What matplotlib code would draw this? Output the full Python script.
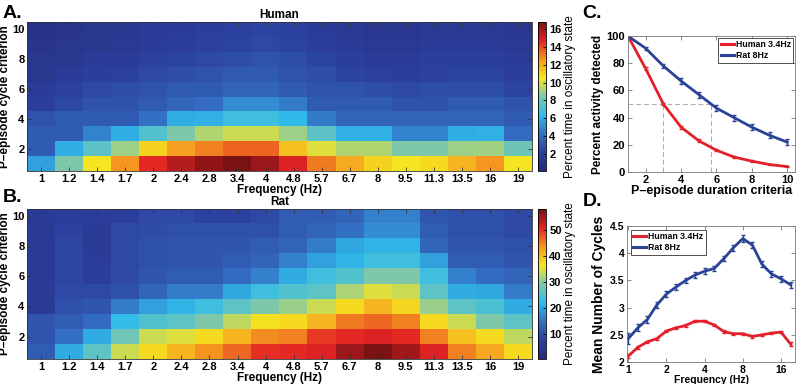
import numpy as np
import matplotlib
matplotlib.use("Agg")
import matplotlib.pyplot as plt
from matplotlib.ticker import FixedLocator, NullLocator
from matplotlib.colors import LinearSegmentedColormap
from matplotlib.lines import Line2D

plt.rcParams['font.family'] = ['Liberation Sans', 'DejaVu Sans']

freq_labels = ['1', '1.2', '1.4', '1.7', '2', '2.4', '2.8', '3.4', '4', '4.8',
               '5.7', '6.7', '8', '9.5', '11.3', '13.5', '16', '19']
cycle_criteria = [1, 2, 3, 4, 5, 6, 7, 8, 9, 10]

# Human: percent time in oscillatory state, rows = cycle criterion 1..10
human = [
    [5.6, 8.5, 10.6, 12.6, 14.6, 15.6, 16.3, 16.8, 16.1, 14.8, 13.1, 12.1, 11.0, 10.6, 10.8, 11.8, 12.6, 10.6],
    [3.4, 6.0, 7.6, 9.0, 11.0, 12.3, 13.0, 13.5, 13.5, 11.5, 10.1, 9.3, 9.3, 8.5, 8.5, 9.0, 9.1, 8.0],
    [3.4, 3.4, 4.8, 6.0, 7.3, 8.5, 9.3, 9.8, 9.8, 9.0, 7.6, 6.1, 6.1, 4.8, 4.8, 6.0, 6.1, 4.1],
    [3.0, 3.4, 3.4, 3.4, 4.3, 6.0, 6.1, 6.8, 6.8, 6.3, 4.6, 3.8, 3.8, 3.8, 3.8, 3.8, 3.8, 3.4],
    [2.1, 2.6, 3.0, 3.1, 3.4, 3.8, 4.1, 5.1, 5.1, 4.6, 3.4, 3.4, 3.4, 3.1, 3.1, 3.4, 3.4, 3.0],
    [1.8, 2.3, 2.6, 2.8, 3.0, 3.3, 3.4, 3.8, 3.8, 3.4, 3.1, 3.0, 2.8, 2.6, 2.8, 2.8, 2.8, 2.4],
    [1.4, 1.8, 2.1, 2.3, 2.6, 2.8, 3.0, 3.3, 3.3, 3.1, 2.8, 2.4, 2.3, 2.1, 2.3, 2.4, 2.4, 2.1],
    [1.3, 1.4, 1.8, 1.9, 2.3, 2.4, 2.6, 2.8, 3.0, 2.8, 2.4, 2.1, 1.9, 1.9, 2.1, 2.1, 2.1, 1.9],
    [1.1, 1.3, 1.4, 1.6, 1.9, 2.1, 2.3, 2.4, 2.6, 2.4, 2.1, 1.8, 1.6, 1.6, 1.8, 1.8, 1.8, 1.6],
    [0.9, 1.1, 1.3, 1.4, 1.8, 1.8, 2.1, 2.3, 2.4, 2.3, 1.9, 1.6, 1.4, 1.4, 1.6, 1.6, 1.6, 1.4],
]

# Rat
rat = [
    [11.9, 20.6, 26.3, 33.8, 37.3, 40.7, 43.6, 46.5, 49.9, 50.5, 51.1, 55.7, 58.0, 55.1, 51.1, 44.8, 41.9, 37.3],
    [10.8, 14.8, 20.6, 28.0, 33.8, 35.0, 37.3, 40.7, 44.2, 44.8, 49.4, 50.5, 51.1, 50.5, 44.8, 39.6, 37.3, 33.2],
    [10.8, 11.9, 14.2, 22.3, 25.2, 26.3, 29.2, 33.2, 36.7, 37.3, 40.7, 45.3, 46.5, 44.8, 37.3, 33.8, 29.2, 26.3],
    [6.2, 10.2, 10.8, 16.0, 19.4, 21.1, 23.4, 26.3, 29.2, 30.9, 33.8, 37.3, 40.7, 37.8, 30.9, 26.3, 24.6, 20.6],
    [6.2, 9.0, 9.0, 10.2, 13.1, 16.0, 16.0, 20.0, 23.4, 25.2, 26.3, 32.1, 35.0, 33.8, 26.3, 20.6, 20.0, 16.0],
    [6.2, 8.5, 7.3, 9.0, 10.8, 11.9, 11.9, 14.2, 16.5, 20.6, 23.4, 25.2, 29.2, 29.2, 23.4, 16.5, 14.2, 13.1],
    [6.2, 8.5, 6.8, 9.0, 10.2, 10.8, 10.8, 11.9, 13.1, 16.5, 19.4, 21.1, 23.4, 23.4, 19.4, 11.9, 11.9, 10.8],
    [6.2, 8.5, 6.2, 9.0, 10.2, 10.8, 10.8, 10.8, 11.9, 13.1, 16.0, 20.0, 21.1, 21.1, 13.1, 10.8, 10.8, 10.2],
    [6.2, 7.9, 6.2, 9.0, 9.6, 10.2, 10.2, 10.2, 10.2, 11.9, 13.1, 14.8, 17.7, 17.7, 11.9, 10.2, 10.2, 9.0],
    [6.2, 7.3, 6.8, 7.3, 9.0, 9.0, 7.9, 7.9, 9.0, 11.9, 11.9, 13.1, 16.5, 16.5, 10.8, 10.2, 10.2, 9.0],
]

human_range = (0.1, 16.8)
rat_range = (0.4, 58.0)
human_cticks = [2, 4, 6, 8, 10, 12, 14, 16]
rat_cticks = [10, 20, 30, 40, 50]

# Panel C
duration = [1, 2, 3, 4, 5, 6, 7, 8, 9, 10]
c_human = [100, 76, 50, 33, 23, 16, 11, 8, 5.5, 4]
c_human_err = [0.5, 1.0, 1.0, 1.0, 1.0, 0.8, 0.7, 0.6, 0.5, 0.5]
c_rat = [100, 91, 78, 67, 57, 47, 40, 33, 27, 22]
c_rat_err = [0.5, 1.2, 1.5, 2.0, 2.2, 2.2, 2.2, 2.2, 2.2, 2.2]
c_dash_x = [3, 5.7]

# Panel D
freqs = [1, 1.19, 1.41, 1.68, 2, 2.38, 2.83, 3.36, 4, 4.76, 5.66, 6.73,
         8, 9.51, 11.31, 13.45, 16, 19.03]
d_human = [2.11, 2.27, 2.37, 2.43, 2.57, 2.63, 2.67, 2.75, 2.75, 2.68, 2.56, 2.52,
           2.52, 2.47, 2.50, 2.53, 2.55, 2.33]
d_human_err = [0.03, 0.03, 0.02, 0.02, 0.02, 0.02, 0.02, 0.02, 0.02, 0.02, 0.02, 0.02,
               0.02, 0.02, 0.02, 0.02, 0.02, 0.03]
d_rat = [2.43, 2.63, 2.78, 3.05, 3.25, 3.38, 3.50, 3.60, 3.67, 3.72, 3.90, 4.10,
         4.27, 4.15, 3.80, 3.62, 3.53, 3.42]
d_rat_err = [0.1, 0.06, 0.06, 0.06, 0.06, 0.05, 0.05, 0.05, 0.05, 0.05, 0.05, 0.05,
             0.06, 0.05, 0.05, 0.05, 0.05, 0.06]

RED = '#e3202b'
BLUE = '#2b4396'

# muted jet-like colormap, as printed in the reference
_anchors = [
    (0.0, (38, 44, 122)),
    (0.125, (44, 64, 158)),
    (0.25, (52, 112, 196)),
    (0.375, (48, 188, 234)),
    (0.5, (125, 200, 172)),
    (0.625, (245, 230, 32)),
    (0.75, (245, 150, 32)),
    (0.875, (228, 36, 36)),
    (1.0, (122, 18, 20)),
]
CMAP = LinearSegmentedColormap.from_list(
    'mutedjet', [(p, tuple(c / 255 for c in rgb)) for p, rgb in _anchors], N=256)

fig = plt.figure(figsize=(8.0, 3.84), dpi=100)


def heat(rect, crect, data, rng, cticks, title, letter, letter_y):
    ax = fig.add_axes(rect)
    arr = np.array(data)
    im = ax.imshow(arr, origin='lower', aspect='auto', cmap=CMAP,
                   vmin=rng[0], vmax=rng[1], interpolation='nearest',
                   extent=(0.5, len(freq_labels) + 0.5, 0.5, len(cycle_criteria) + 0.5))
    ax.set_xticks(np.arange(1, len(freq_labels) + 1))
    ax.set_xticklabels(freq_labels, fontsize=8, fontweight='bold')
    ax.set_yticks([2, 4, 6, 8, 10])
    ax.set_yticklabels(['2', '4', '6', '8', '10'], fontsize=8, fontweight='bold')
    ax.tick_params(direction='in', length=3, width=0.6, color='#333333',
                   top=True, right=True, pad=2)
    for s in ax.spines.values():
        s.set_linewidth(0.6)
        s.set_color('#333333')
    ax.set_xlabel('Frequency (Hz)', fontsize=8.5, fontweight='bold', labelpad=0)
    ax.set_ylabel('P\u2013episode cycle criterion', fontsize=8.5, fontweight='bold', labelpad=1)
    ax.set_title(title, fontsize=8.5, fontweight='bold', pad=3)
    cax = fig.add_axes(crect)
    cb = fig.colorbar(im, cax=cax)
    cb.set_ticks(cticks)
    cb.ax.tick_params(direction='in', length=2.5, width=0.6, labelsize=8, pad=2)
    for t in cb.ax.get_yticklabels():
        t.set_fontweight('bold')
    cb.outline.set_linewidth(0.6)
    cb.set_label('Percent time in oscillatory state', fontsize=8.5, labelpad=2)
    fig.text(0.003, letter_y, letter, fontsize=14, fontweight='bold', va='center', ha='left')
    return ax


heat([0.034, 0.555, 0.631, 0.388], [0.6725, 0.555, 0.0105, 0.388],
     human, human_range, human_cticks, 'Human', 'A.', 1 - 14 / 384)
heat([0.034, 0.065, 0.631, 0.391], [0.6725, 0.065, 0.0105, 0.391],
     rat, rat_range, rat_cticks, 'Rat', 'B.', 1 - 198 / 384)

legend_handles = [Line2D([], [], color=RED, lw=2.2, label='Human 3.4Hz'),
                  Line2D([], [], color=BLUE, lw=2.2, label='Rat 8Hz')]


def style_legend(leg):
    leg.get_frame().set_linewidth(0.6)
    leg.get_frame().set_edgecolor('#333333')
    for t in leg.get_texts():
        t.set_fontweight('bold')


# Panel C
axc = fig.add_axes([0.785, 0.552, 0.209, 0.354])
axc.plot([1, c_dash_x[1]], [50, 50], ls=(0, (5, 3)), color='#aaaaaa', lw=0.7)
for xd in c_dash_x:
    axc.plot([xd, xd], [0, 50], ls=(0, (5, 3)), color='#aaaaaa', lw=0.7)
axc.errorbar(duration, c_human, yerr=c_human_err, color=RED, lw=2, capsize=1.5,
             elinewidth=1)
axc.errorbar(duration, c_rat, yerr=c_rat_err, color=BLUE, lw=2, capsize=1.5,
             elinewidth=1)
axc.set_xlim(1, 10.45)
axc.set_ylim(0, 100)
axc.set_xticks([2, 4, 6, 8, 10])
axc.set_yticks([0, 20, 40, 60, 80, 100])
axc.tick_params(direction='in', length=3, width=0.6, color='#777777',
                top=True, right=True, labelsize=8, pad=2)
for t in axc.get_xticklabels() + axc.get_yticklabels():
    t.set_fontweight('bold')
for s in axc.spines.values():
    s.set_linewidth(0.6)
    s.set_color('#777777')
axc.set_xlabel('P\u2013episode duration criteria', fontsize=9, fontweight='bold', labelpad=0)
axc.set_ylabel('Percent activity detected', fontsize=8.5, fontweight='bold', labelpad=2)
legc = axc.legend(handles=legend_handles, loc='upper right', fontsize=6.3,
                  handlelength=1.5, handletextpad=0.2, borderpad=0.3, labelspacing=0.2,
                  fancybox=False, framealpha=1, borderaxespad=0.2)
style_legend(legc)
fig.text(0.728, 1 - 14 / 384, 'C.', fontsize=14, fontweight='bold', va='center', ha='left')

# Panel D
axd = fig.add_axes([0.784, 0.0573, 0.21, 0.354])
axd.errorbar(freqs, d_human, yerr=d_human_err, color=RED, lw=2, capsize=1.5,
             elinewidth=1)
axd.errorbar(freqs, d_rat, yerr=d_rat_err, color=BLUE, lw=2, capsize=1.5,
             elinewidth=1)
axd.set_xscale('log', base=2)
axd.set_xlim(0.98, 20.7)
axd.set_ylim(2, 4.5)
axd.xaxis.set_major_locator(FixedLocator([1, 2, 4, 8, 16]))
axd.xaxis.set_minor_locator(NullLocator())
axd.set_xticklabels(['1', '2', '4', '8', '16'])
axd.set_yticks([2, 2.5, 3, 3.5, 4, 4.5])
axd.set_yticklabels(['2', '2.5', '3', '3.5', '4', '4.5'])
axd.tick_params(direction='in', length=3, width=0.6, color='#777777',
                top=True, right=True, labelsize=7.5, pad=2)
for t in axd.get_xticklabels() + axd.get_yticklabels():
    t.set_fontweight('bold')
for s in axd.spines.values():
    s.set_linewidth(0.6)
    s.set_color('#777777')
axd.set_xlabel('Frequency (Hz)', fontsize=7.5, fontweight='bold', labelpad=0)
axd.set_ylabel('Mean Number of Cycles', fontsize=10, fontweight='bold', labelpad=3)
legd = axd.legend(handles=legend_handles, loc='upper left', fontsize=6.3,
                  handlelength=1.5, handletextpad=0.2, borderpad=0.3, labelspacing=0.2,
                  fancybox=False, framealpha=1, borderaxespad=0.4)
style_legend(legd)
fig.text(0.728, 1 - 202 / 384, 'D.', fontsize=14, fontweight='bold', va='center', ha='left')

fig.savefig('out.png', dpi=100)
